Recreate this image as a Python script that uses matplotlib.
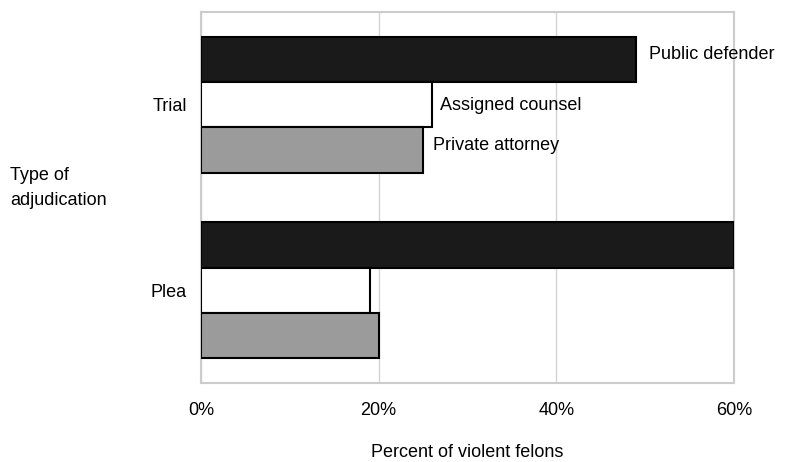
import matplotlib
matplotlib.use("Agg")
import matplotlib.pyplot as plt
from matplotlib.ticker import FuncFormatter

plt.rcParams['font.family'] = ['Liberation Sans', 'DejaVu Sans']

categories = ["Plea", "Trial"]
series_names = ["Public defender", "Assigned counsel", "Private attorney"]
public_defender = [60, 49]
assigned_counsel = [19, 26]
private_attorney = [20, 25]
x_ticks = [0, 20, 40, 60]

colors = ["#1a1a1a", "#ffffff", "#9b9b9b"]
series = [public_defender, assigned_counsel, private_attorney]

fig = plt.figure(figsize=(8.03, 4.62), dpi=100)
ax = fig.add_axes([201/803, 1 - 383/462, (734-201)/803, (383-12)/462])

h = 0.245
offsets = [h, 0, -h]
for vals, col, off, name in zip(series, colors, offsets, series_names):
    ys = [i + off for i in range(len(categories))]
    ax.barh(ys, vals, height=h, color=col, edgecolor="#000000", linewidth=1.5, zorder=3)

# labels next to the Trial bars
label_offsets = [13, 8, 10]
label_dy = [5, -1, 5]
for vals, off, name, dx, dy in zip(series, offsets, series_names, label_offsets, label_dy):
    ax.annotate(name, xy=(vals[1], 1 + off), xytext=(dx, dy), textcoords="offset pixels",
                ha="left", va="center", fontsize=13, annotation_clip=False, zorder=4)

ax.set_xlim(0, 60)
ax.set_ylim(-0.5, 1.5)
ax.set_xticks(x_ticks)
ax.xaxis.set_major_formatter(FuncFormatter(lambda v, p: f"{int(v)}%"))
ax.set_yticks(range(len(categories)))
ax.set_yticklabels(categories)
ax.tick_params(axis="both", length=0, labelsize=13)
ax.tick_params(axis="x", pad=14)
ax.tick_params(axis="y", pad=10)
ax.grid(axis="x", color="#d4d4d4", linewidth=1, zorder=0)
for s in ax.spines.values():
    s.set_color("#cccccc")
    s.set_linewidth(1.5)

ax.set_xlabel("Percent of violent felons", fontsize=13, labelpad=18)
fig.text(10/803, 1 - 188/462, "Type of\nadjudication", fontsize=13, ha="left", va="center",
         linespacing=1.65)

fig.savefig("out.png", dpi=100)
